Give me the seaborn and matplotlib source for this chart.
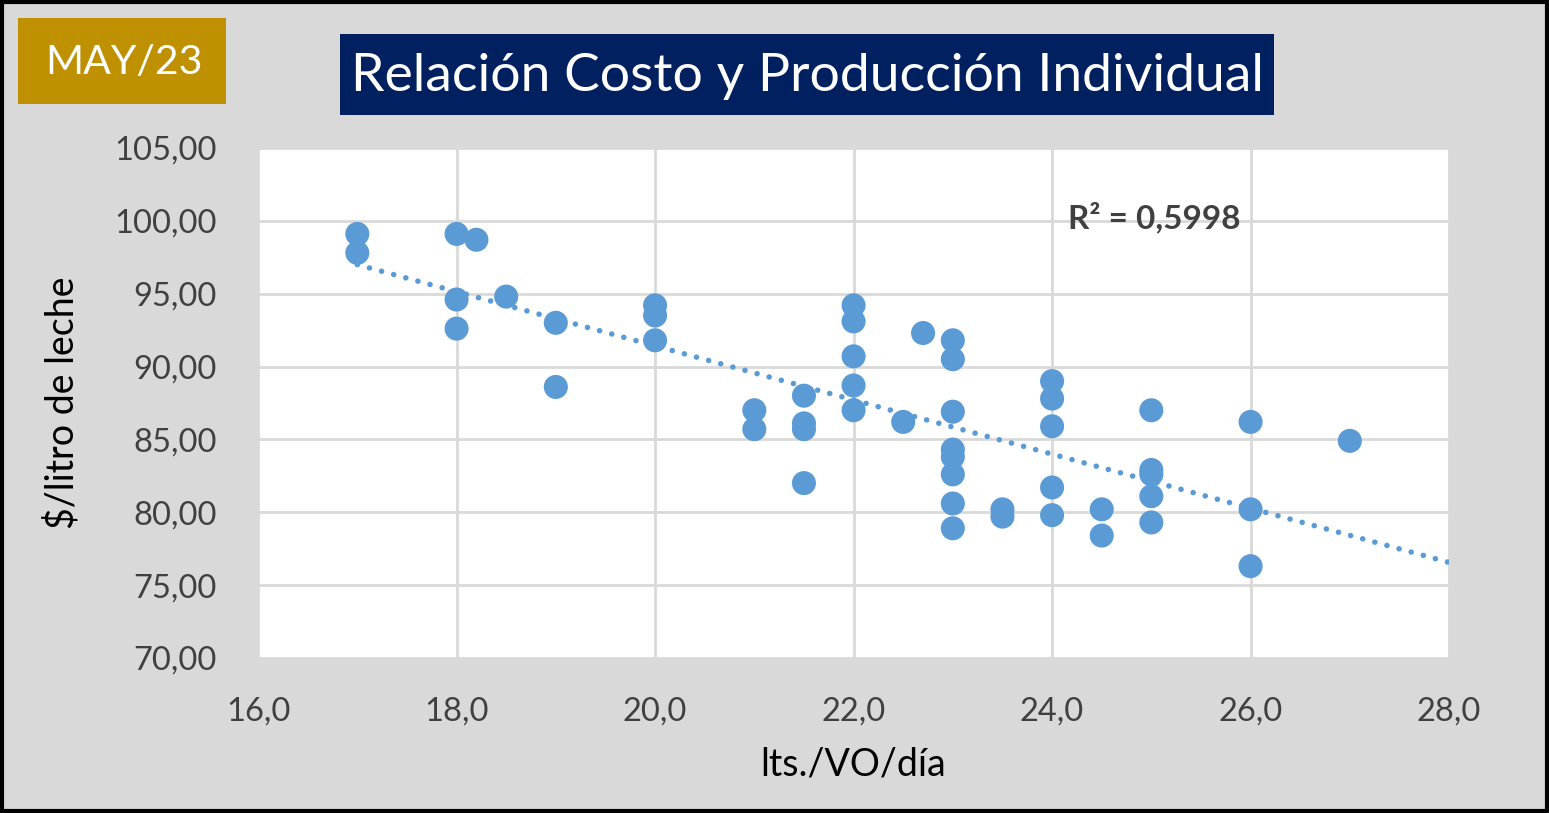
import numpy as np
import pandas as pd
import matplotlib
matplotlib.use("Agg")
import matplotlib.pyplot as plt
import seaborn as sns
from matplotlib.patches import Rectangle
from matplotlib.ticker import FuncFormatter

# Data (lts/VO/dia vs $/litro de leche)
litros = [17.0, 17.0, 18.0, 18.2, 18.0, 18.0, 18.5, 19.0, 19.0,
          20.0, 20.0, 20.0, 21.0, 21.0, 21.5, 21.5, 21.5, 21.5,
          22.0, 22.0, 22.0, 22.0, 22.0, 22.5, 22.7,
          23.0, 23.0, 23.0, 23.0, 23.0, 23.0, 23.0, 23.0,
          23.5, 23.5, 24.0, 24.0, 24.0, 24.0, 24.0, 24.5, 24.5,
          25.0, 25.0, 25.0, 25.0, 25.0, 26.0, 26.0, 26.0, 27.0]
costo = [99.1, 97.8, 99.1, 98.7, 94.6, 92.6, 94.8, 93.0, 88.6,
         94.2, 93.5, 91.8, 87.0, 85.7, 88.0, 86.1, 85.7, 82.0,
         94.2, 93.1, 90.7, 88.7, 87.0, 86.2, 92.3,
         91.8, 90.5, 86.9, 84.3, 83.8, 82.6, 80.6, 78.9,
         80.2, 79.7, 89.0, 87.8, 85.9, 81.7, 79.8, 80.2, 78.4,
         87.0, 82.9, 82.6, 81.1, 79.3, 86.2, 80.2, 76.3, 84.9]

periodo = "MAY/23"
titulo = "Relación Costo y Producción Individual"
r2_label = "R² = 0,5998"

df = pd.DataFrame({"litros": litros, "costo": costo})

sns.set_theme(style="whitegrid")
plt.rcParams['font.family'] = ['Lato', 'DejaVu Sans']

fig = plt.figure(figsize=(15.49, 8.13), dpi=100)
fig.patch.set_facecolor("#d9d9d9")
ax = fig.add_axes([0.1666, 0.1907, 0.7689, 0.6273])
ax.set_facecolor("white")

sns.scatterplot(data=df, x="litros", y="costo", ax=ax, color="#5b9bd5",
                s=300, edgecolor="none", zorder=3)

# linear trend, forecast forward to the axis end
coef = np.polyfit(df["litros"], df["costo"], 1)
xs = np.linspace(df["litros"].min(), 28, 100)
ax.plot(xs, np.polyval(coef, xs), color="#5b9bd5", lw=4,
        linestyle=(0, (0.01, 2.25)), dash_capstyle="round", zorder=2)

ax.set_xlim(16, 28)
ax.set_ylim(70, 105)
ax.set_xticks(np.arange(16, 28.1, 2))
ax.set_yticks(np.arange(70, 105.1, 5))
ax.xaxis.set_major_formatter(FuncFormatter(lambda v, p: f"{v:.1f}".replace(".", ",")))
ax.yaxis.set_major_formatter(FuncFormatter(lambda v, p: f"{v:.2f}".replace(".", ",")))
ax.tick_params(labelsize=23.5, colors="#404040")
ax.tick_params(axis="y", pad=24)
ax.tick_params(axis="x", pad=22)
ax.grid(True, color="#d9d9d9", lw=2)
for s in ax.spines.values():
    s.set_visible(False)

ax.set_xlabel("lts./VO/día", fontsize=27, color="black", labelpad=14)
ax.set_ylabel("$/litro de leche", fontsize=27, color="black", labelpad=24)

ax.text(25.03, 100.2, r2_label, fontsize=24, fontweight="bold", color="#404040",
        ha="center", va="center")

# header boxes
fig.patches.append(Rectangle((18 / 1549, 1 - 104 / 813), 208 / 1549, 86 / 813,
                             transform=fig.transFigure, facecolor="#bf9000",
                             edgecolor="none"))
fig.text(124 / 1549, 1 - 62 / 813, periodo, fontsize=29.5, color="white",
         ha="center", va="center")
fig.patches.append(Rectangle((340 / 1549, 1 - 115 / 813), 934 / 1549, 81 / 813,
                             transform=fig.transFigure, facecolor="#002060",
                             edgecolor="none"))
fig.text(807 / 1549, 1 - 76 / 813, titulo, fontsize=38.5, color="white",
         ha="center", va="center")

# outer border
fig.patches.append(Rectangle((0.001, 0.002), 0.998, 0.996, transform=fig.transFigure,
                             facecolor="none", edgecolor="black", lw=3))

fig.savefig("out.png", dpi=100, facecolor=fig.get_facecolor())
